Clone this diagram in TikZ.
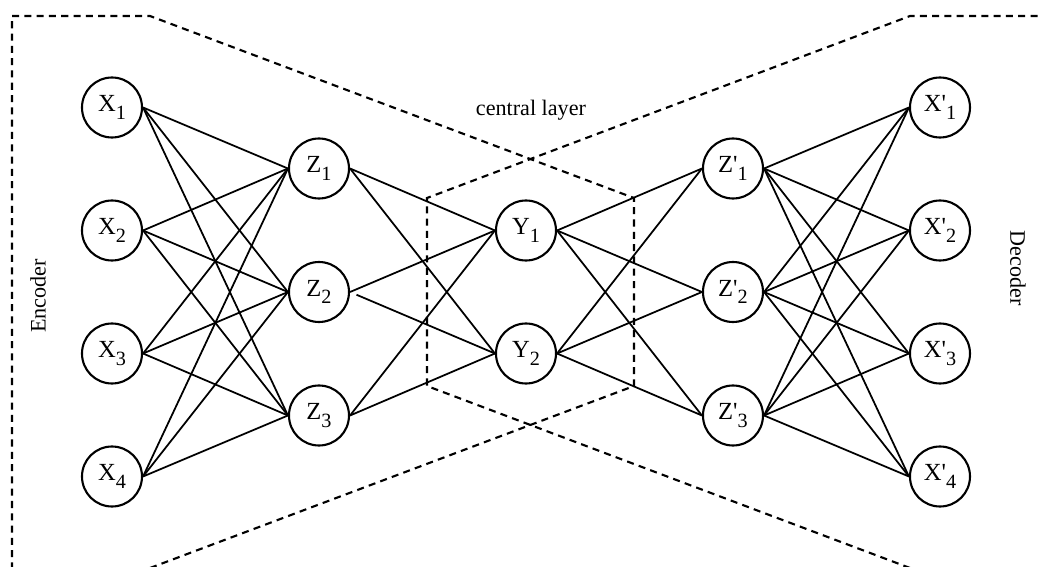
\documentclass[tikz,border=0pt]{standalone}
\usepackage{fontspec}
\setmainfont{Liberation Serif}
\tikzset{
  neuron/.style={draw, circle, line width=1.2pt, minimum size=1.2cm, inner sep=0pt, font=\fontsize{14}{16}\selectfont},
  link/.style={line width=1pt},
  region/.style={line width=1.2pt, dash pattern=on 4pt off 3pt},
  tag/.style={font=\fontsize{12.6}{14}\selectfont}
}
\newcommand{\pr}{\textquotesingle}
\newcommand{\sub}[1]{\raisebox{-0.3em}{\fontsize{11.5}{12}\selectfont #1}}
\begin{document}
\begin{tikzpicture}
        \useasboundingbox (-10.52,-5.5) rectangle (10.28,5.84);
        \clip (-10.52,-5.5) rectangle (10.28,5.84);
        % encoder and decoder outlines
        \draw[region] (-7.52,-5.52) -- (2.16,-1.88) -- (2.16,1.88) -- (-7.52,5.52) -- (-10.28,5.52) -- (-10.28,-5.7);
        \draw[region] (7.68,-5.52) -- (-1.98,-1.88) -- (-1.98,1.88) -- (7.68,5.52) -- (10.44,5.52) -- (10.44,-5.7);

        % layers
        \node[neuron] (x1) at (-8.28,3.69) {X\sub{1}};
        \node[neuron] (x2) at (-8.28,1.23) {X\sub{2}};
        \node[neuron] (x3) at (-8.28,-1.23) {X\sub{3}};
        \node[neuron] (x4) at (-8.28,-3.69) {X\sub{4}};

        \node[neuron] (z1) at (-4.14,2.47) {Z\sub{1}};
        \node[neuron] (z2) at (-4.14,0) {Z\sub{2}};
        \node[neuron] (z3) at (-4.14,-2.47) {Z\sub{3}};

        \node[neuron] (y1) at (0,1.23) {Y\sub{1}};
        \node[neuron] (y2) at (0,-1.23) {Y\sub{2}};

        \node[neuron] (w1) at (4.14,2.47) {Z\pr\sub{1}};
        \node[neuron] (w2) at (4.14,0) {Z\pr\sub{2}};
        \node[neuron] (w3) at (4.14,-2.47) {Z\pr\sub{3}};

        \node[neuron] (v1) at (8.28,3.69) {X\pr\sub{1}};
        \node[neuron] (v2) at (8.28,1.23) {X\pr\sub{2}};
        \node[neuron] (v3) at (8.28,-1.23) {X\pr\sub{3}};
        \node[neuron] (v4) at (8.28,-3.69) {X\pr\sub{4}};

        % labels
        \node[tag] (central) at (0.1,3.64) {central layer};
        \node[tag, rotate=90] (enc) at (-9.76,-0.08) {Encoder};
        \node[tag, rotate=-90] (dec) at (9.84,0.48) {Decoder};

        % connections
        \foreach \i in {1,...,4}
            \foreach \j in {1,2,3} {
                \draw[link] (x\i.east) -- (z\j.west);
                \draw[link] (w\j.east) -- (v\i.west);
            }
        \draw[link] (z1.east) -- (y1.west);
        \draw[link] (z1.east) -- (y2.west);
        \draw[link] (z2.east) -- (y1.west);
        \draw[link, shorten <=4pt] (z2.east) -- (y2.west);
        \draw[link] (z3.east) -- (y1.west);
        \draw[link] (z3.east) -- (y2.west);
        \foreach \i in {1,2}
            \foreach \j in {1,2,3}
                \draw[link] (y\i.east) -- (w\j.west);
\end{tikzpicture}
\end{document}
